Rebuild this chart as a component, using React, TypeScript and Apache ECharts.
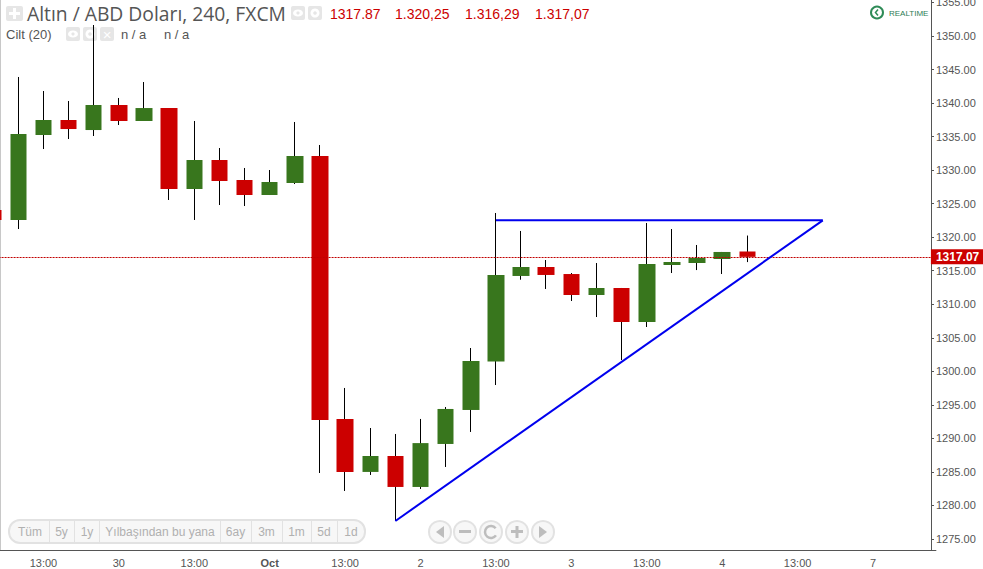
import React, { useEffect, useRef } from "react";
import * as echarts from "echarts";

const categories = ["", "", "13:00", "", "", "30", "", "", "13:00", "", "", "Oct", "", "", "13:00", "", "", "2", "", "", "13:00", "", "", "3", "", "", "13:00", "", "", "4", "", "", "13:00", "", "", "7", "", ""];
const opens = [1324.06, 1322.57, 1335.24, 1337.48, 1335.98, 1339.71, 1337.33, 1339.26, 1327.19, 1331.51, 1328.53, 1326.29, 1328.08, 1332.11, 1292.9, 1285, 1287.38, 1282.76, 1289.17, 1294.24, 1301.47, 1314.22, 1315.56, 1314.51, 1311.38, 1312.43, 1307.36, 1315.86, 1316.15, 1316.75, 1317.87];
const closes = [1322.57, 1335.39, 1337.48, 1336.13, 1339.71, 1337.33, 1339.26, 1327.19, 1331.51, 1328.38, 1326.29, 1328.23, 1332.11, 1292.75, 1285, 1287.38, 1282.76, 1289.3, 1294.39, 1301.54, 1314.37, 1315.56, 1314.37, 1311.38, 1312.43, 1307.36, 1316.0, 1316.3, 1316.9, 1317.8, 1317.07];
const lows = [1321.9, 1321.22, 1333.15, 1334.64, 1335.09, 1336.73, 1337.33, 1325.55, 1322.57, 1324.8, 1324.65, 1326.29, 1327.93, 1284.84, 1282.16, 1284.55, 1277.69, 1282.46, 1285.74, 1290.96, 1297.96, 1313.66, 1312.28, 1310.49, 1308.1, 1301.69, 1306.61, 1314.66, 1315.1, 1314.51, 1316.29];
const highs = [1325.0, 1343.89, 1341.8, 1340.31, 1351.64, 1340.76, 1343.14, 1339.26, 1337.33, 1333.3, 1330.32, 1330.02, 1337.18, 1333.75, 1297.52, 1291.55, 1290.66, 1292.9, 1294.68, 1303.48, 1323.61, 1320.93, 1316.6, 1314.66, 1316.15, 1312.43, 1322.12, 1321.22, 1318.84, 1317.8, 1320.25];
const resistanceLine = [[20, 1322.52], [33, 1322.52]];
const supportLine = [[16, 1277.69], [33, 1322.52]];
const yTicks = [1275, 1280, 1285, 1290, 1295, 1300, 1305, 1310, 1315, 1320, 1325, 1330, 1335, 1340, 1345, 1350, 1355];
const lastPrice = 1317.07;
const titleText = "Altın / ABD Doları, 240, FXCM";
const ohlcTexts = ["1317.87", "1.320,25", "1.316,29", "1.317,07"];
const rangeLabels = ["Tüm", "5y", "1y", "Yılbaşından bu yana", "6ay", "3m", "1m", "5d", "1d"];

const UI = "'Liberation Sans', Arial, sans-serif";
const GREEN = "#38761d";
const RED = "#cc0000";
const ICON = "#e6e6e6";
const PAD = 30;

function iconBox(x: number, y: number, w: number, h: number) {
  return { type: "rect", shape: { x, y, width: w, height: h, r: 2 }, style: { fill: ICON }, silent: true };
}
function eyeIcon(x: number, y: number) {
  return [
    iconBox(x, y, 14, 14),
    { type: "ellipse", shape: { cx: x + 7, cy: y + 7, rx: 5, ry: 3.6 }, style: { fill: "#fff" }, silent: true },
    { type: "circle", shape: { cx: x + 7, cy: y + 7, r: 1.6 }, style: { fill: ICON }, silent: true },
  ];
}
function gearIcon(x: number, y: number) {
  return [
    iconBox(x, y, 14, 14),
    { type: "ring", shape: { cx: x + 7, cy: y + 7, r: 4.5, r0: 1.8 }, style: { fill: "#fff" }, silent: true },
  ];
}
function txt(text: string, x: number, y: number, size: number, fill: string, extra: any = {}) {
  return { type: "text", x, y, silent: true, style: { text, fontSize: size, fontFamily: UI, fill, textVerticalAlign: "middle", textBaseline: "middle", ...extra } };
}

function rangeSelector() {
  const seps = [49, 74, 99, 220, 251, 282, 311, 337];
  const centers = [30, 61.5, 87, 160, 235.5, 266.5, 296.5, 324, 351];
  const out: any[] = [
    { type: "rect", shape: { x: 9, y: 520, width: 356, height: 23, r: 11 }, style: { fill: "#f7f7f7", stroke: "#e2e2e2", lineWidth: 2 }, silent: true },
  ];
  seps.forEach((x) => out.push({ type: "line", shape: { x1: x + 0.5, y1: 521, x2: x + 0.5, y2: 542 }, style: { stroke: "#e2e2e2", lineWidth: 1 }, silent: true }));
  rangeLabels.forEach((t, i) => out.push(txt(t, centers[i], 532, 12, "#b0b0b0", { textAlign: "center", align: "center" })));
  return out;
}

function navButtons() {
  const cx = [440, 465, 491, 517, 543];
  const cy = 532;
  const out: any[] = [];
  cx.forEach((x) => out.push({ type: "circle", shape: { cx: x, cy, r: 11 }, style: { fill: "#f7f7f7", stroke: "#e2e2e2", lineWidth: 2 }, silent: true }));
  const c = "#bdbdbd";
  out.push({ type: "polygon", shape: { points: [[444, 526], [444, 538], [436, 532]] }, style: { fill: c }, silent: true });
  out.push({ type: "rect", shape: { x: 459, y: 530, width: 12, height: 3 }, style: { fill: c }, silent: true });
  out.push({ type: "arc", shape: { cx: 491, cy, r: 6, startAngle: 0.6, endAngle: 5.6 }, style: { stroke: c, fill: "none", lineWidth: 2.5 }, silent: true });
  out.push({ type: "rect", shape: { x: 511, y: 530, width: 12, height: 3 }, style: { fill: c }, silent: true });
  out.push({ type: "rect", shape: { x: 515.5, y: 526, width: 3, height: 12 }, style: { fill: c }, silent: true });
  out.push({ type: "polygon", shape: { points: [[539, 526], [539, 538], [547, 532]] }, style: { fill: c }, silent: true });
  return out;
}

function buildGraphic() {
  const g: any[] = [
    { type: "rect", shape: { x: 0, y: 0, width: 1, height: 550 }, style: { fill: "#c8c8c8" }, silent: true },
    { type: "rect", shape: { x: 932, y: 548, width: 6, height: 4 }, style: { fill: "#fff" }, silent: true },
    iconBox(6, 6, 17, 15),
    { type: "rect", shape: { x: 9, y: 12, width: 11, height: 3 }, style: { fill: "#fff" }, silent: true },
    { type: "rect", shape: { x: 13, y: 8, width: 3, height: 11 }, style: { fill: "#fff" }, silent: true },
    txt(titleText, 27, 13, 19.3, "#555555", { fontFamily: "'Open Sans', sans-serif" }),
    ...eyeIcon(291, 6),
    ...gearIcon(308, 6),
    txt("Cilt (20)", 6, 34, 13, "#555555"),
    ...eyeIcon(66, 27),
    ...gearIcon(83, 27),
    iconBox(100, 27, 14, 14),
    txt("×", 107, 34, 15, "#ffffff", { textAlign: "center", align: "center" }),
    txt("n / a", 121, 34, 13, "#555555"),
    txt("n / a", 164, 34, 13, "#555555"),
    { type: "circle", shape: { cx: 877, cy: 12.5, r: 6 }, style: { fill: "#fff", stroke: "#2e8b57", lineWidth: 2 }, silent: true },
    { type: "polyline", shape: { points: [[878, 9.5], [875.5, 12.5], [878, 15.5]] }, style: { stroke: "#2e8b57", fill: "none", lineWidth: 1.5 }, silent: true },
    txt("REALTIME", 889, 13, 8, "#2e7d55"),
    ...rangeSelector(),
    ...navButtons(),
  ];
  [330, 395, 465, 535].forEach((x, i) => g.push(txt(ohlcTexts[i], x, 14, 14, RED)));
  return [{ type: "group", x: PAD, y: PAD, z: 50, children: g }];
}

export default function App() {
  const ref = useRef<HTMLDivElement>(null);
  useEffect(() => {
    document.body.style.margin = "0";
    document.body.style.overflow = "hidden";
    const chart = echarts.init(ref.current!, undefined, { renderer: "svg" });
    const wick = opens.map((o, i) => [o, closes[i], lows[i], highs[i]]);
    const body = opens.map((o, i) => [o, closes[i], Math.min(o, closes[i]), Math.max(o, closes[i])]);
    const showLabel = (i: number) => categories[i] !== "";
    chart.setOption({
      animation: false,
      backgroundColor: "#ffffff",
      textStyle: { fontFamily: UI },
      grid: { left: PAD - 19.41, right: 47.09, top: PAD, height: 550 },
      xAxis: {
        type: "category",
        data: categories,
        boundaryGap: true,
        axisLine: { lineStyle: { color: "#555555", width: 1 } },
        axisTick: { alignWithLabel: true, interval: (i: number) => showLabel(i), length: 3, lineStyle: { color: "#555555" } },
        axisLabel: {
          interval: (i: number) => showLabel(i),
          color: "#555555",
          fontSize: 11,
          margin: 7,
          formatter: (v: string) => (v === "Oct" ? "{b|Oct}" : v),
          rich: { b: { fontWeight: "bold", fontSize: 11, color: "#555555", fontFamily: UI } },
        },
        splitLine: { show: false },
      },
      yAxis: {
        type: "value",
        position: "right",
        offset: -4.91,
        min: 1273.36,
        max: 1355.37,
        axisLine: { show: true, onZero: false, lineStyle: { color: "#555555", width: 1 } },
        axisTick: { show: true, length: 3, customValues: yTicks, lineStyle: { color: "#555555" } },
        axisLabel: { color: "#555555", fontSize: 11, margin: 5, customValues: yTicks, formatter: (v: number) => v.toFixed(2) },
        splitLine: { show: false },
      },
      series: [
        {
          name: "wick",
          type: "candlestick",
          data: wick,
          barWidth: 1,
          silent: true,
          itemStyle: { color: "#000", color0: "#000", borderColor: "#000", borderColor0: "#000", borderWidth: 1 },
          markLine: {
            silent: true,
            symbol: "none",
            animation: false,
            lineStyle: { color: "#c00000", type: [2, 1], width: 1 },
            data: [{ yAxis: lastPrice }],
            label: {
              show: true,
              position: "end",
              distance: -5,
              formatter: () => lastPrice.toFixed(2),
              backgroundColor: RED,
              color: "#fff",
              fontWeight: "bold",
              fontSize: 12,
              fontFamily: UI,
              width: 48,
              height: 15,
              lineHeight: 15,
              align: "left",
              padding: [0, 0, 0, 5],
            },
          },
        },
        {
          name: "body",
          type: "candlestick",
          data: body,
          barWidth: 17,
          silent: true,
          itemStyle: { color: GREEN, color0: RED, borderColor: GREEN, borderColor0: RED, borderWidth: 0 },
        },
        {
          name: "resistance",
          type: "line",
          data: resistanceLine,
          symbol: "none",
          silent: true,
          lineStyle: { color: "#0000ee", width: 2 },
          z: 5,
        },
        {
          name: "support",
          type: "line",
          data: supportLine,
          symbol: "none",
          silent: true,
          lineStyle: { color: "#0000ee", width: 2 },
          z: 5,
        },
      ],
      graphic: { elements: buildGraphic() },
    });
    return () => chart.dispose();
  }, []);
  return <div ref={ref} style={{ position: "absolute", left: -PAD, top: -PAD, width: 983 + PAD, height: 569 + PAD }} />;
}
